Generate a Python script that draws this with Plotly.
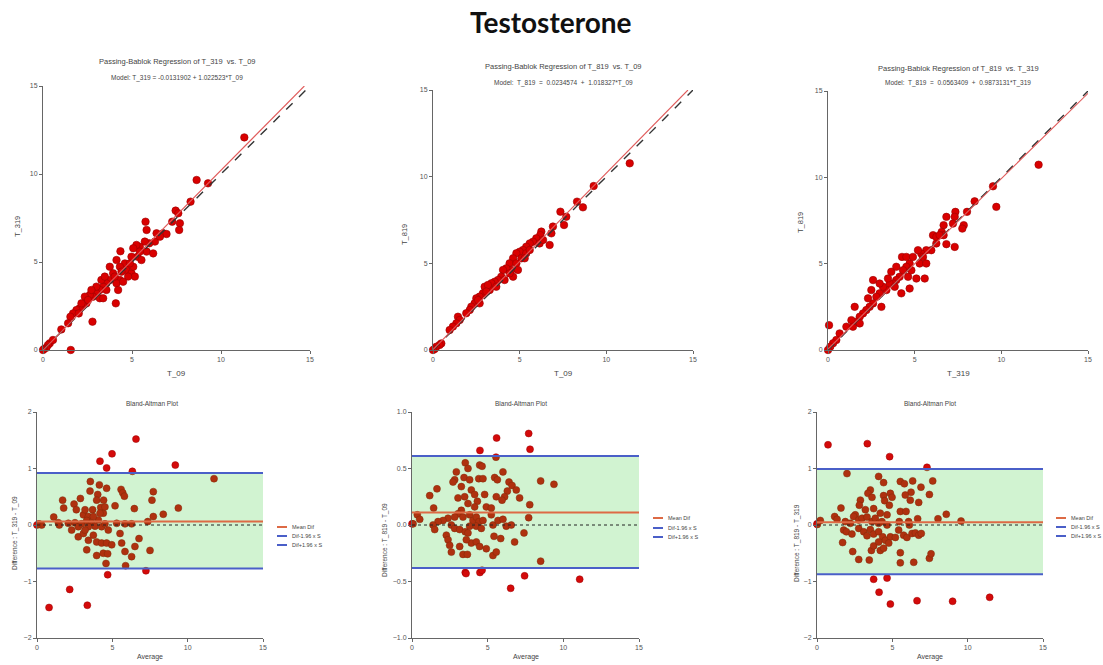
import plotly.graph_objects as go

# ---------------- DATA ----------------
# Passing-Bablok panel 1: T_319 vs T_09
pb1_x = [11.31, 8.63, 9.27, 8.29, 7.45, 7.60, 7.69, 7.65, 7.26, 5.76, 5.82, 6.75, 6.94, 6.38, 6.29, 5.97,
         5.72, 5.44, 5.25, 5.07, 5.31, 5.82, 6.19, 4.35, 4.13, 4.60, 4.32, 3.75, 3.94, 4.69, 4.97, 5.07,
         5.16, 4.78, 4.32, 4.13, 3.75, 3.56, 3.38, 3.28, 3.19, 3.00, 2.81, 2.63, 2.35, 2.44, 2.25, 2.06,
         1.88, 1.69, 3.19, 3.56, 4.09, 2.78, 1.54, 1.41, 1.03, 2.01, 1.56, 0.38, 0.28, 0.19, 0.06, 0.00,
         4.03, 4.41, 3.47, 3.00, 2.72, 4.88, 5.44, 4.22, 4.50, 3.38, 2.53, 2.16, 0.56, 5.53, 6.57, 4.97]
pb1_y = [12.08, 9.66, 9.47, 8.43, 7.92, 7.77, 7.20, 6.82, 7.29, 7.29, 6.82, 6.63, 6.59, 6.63, 6.16, 6.06,
         6.16, 5.87, 5.97, 5.78, 5.30, 5.59, 5.49, 5.61, 5.11, 4.92, 4.73, 4.73, 4.36, 4.55, 4.36, 4.73,
         4.17, 4.17, 3.98, 3.79, 3.98, 3.79, 3.60, 3.98, 3.41, 3.22, 3.03, 3.13, 3.03, 2.65, 2.56, 2.37,
         2.27, 2.08, 2.94, 3.41, 2.65, 1.61, 1.89, 1.52, 1.17, 2.08, 0.00, 0.38, 0.28, 0.13, 0.06, 0.00,
         4.17, 4.45, 4.17, 3.60, 3.41, 4.92, 5.59, 3.41, 3.88, 2.94, 2.84, 2.65, 0.57, 5.11, 6.44, 5.30]
pb1_model = (-0.0131902, 1.022523)

# Passing-Bablok panel 2: T_819 vs T_09
pb2_x = [11.35, 9.27, 8.31, 8.65, 7.35, 7.69, 7.56, 6.92, 6.83, 6.25, 6.19, 5.96, 5.77, 5.58, 5.38, 5.19,
         5.00, 4.81, 5.10, 5.38, 5.58, 4.62, 4.42, 4.52, 4.23, 4.04, 4.62, 3.94, 3.75, 3.56, 3.37, 3.27,
         2.98, 2.88, 2.69, 2.50, 2.40, 2.21, 2.12, 1.92, 1.44, 1.54, 1.35, 1.15, 0.96, 0.48, 0.38, 0.19,
         0.10, 0.00, 2.69, 3.17, 4.42, 4.81, 6.15, 6.35, 3.08, 3.65, 4.13, 4.90, 2.60, 5.29, 6.73]
pb2_y = [10.77, 9.46, 8.56, 8.23, 7.98, 7.69, 7.21, 7.12, 6.73, 6.83, 6.63, 6.44, 6.25, 6.15, 5.96, 5.77,
         5.67, 5.58, 5.29, 5.58, 5.77, 5.29, 5.00, 4.62, 4.71, 4.62, 4.23, 4.23, 4.04, 3.94, 3.85, 3.46,
         3.65, 3.27, 3.08, 2.98, 2.69, 2.50, 2.31, 2.12, 1.92, 1.73, 1.54, 1.35, 1.15, 0.38, 0.29, 0.19,
         0.06, 0.00, 2.69, 3.75, 4.42, 5.00, 6.15, 6.35, 3.37, 3.65, 4.04, 4.62, 2.88, 5.29, 6.06]
pb2_model = (0.0234574, 1.018327)

# Passing-Bablok panel 3: T_819 vs T_319
pb3_x = [12.15, 9.52, 9.71, 8.46, 8.02, 7.35, 7.31, 6.83, 6.67, 6.56, 7.21, 7.83, 7.75, 6.67, 7.31, 6.83,
         6.25, 6.06, 5.96, 5.67, 5.38, 5.19, 5.29, 5.58, 5.10, 4.71, 4.52, 4.33, 4.27, 4.13, 3.94, 3.75,
         4.71, 4.23, 3.56, 3.37, 3.17, 2.98, 2.79, 2.60, 3.65, 3.08, 2.60, 2.40, 2.21, 2.02, 1.83, 1.63,
         1.54, 1.35, 1.06, 1.44, 1.83, 0.67, 0.48, 0.29, 0.13, 0.00, 0.06, 2.31, 2.50, 2.98, 3.94, 4.52,
         4.90, 5.48, 6.25, 6.44, 3.85, 3.46, 4.62, 4.81, 5.67]
pb3_y = [10.73, 9.48, 8.29, 8.61, 8.00, 8.00, 7.71, 7.71, 7.23, 6.84, 7.32, 7.23, 7.03, 6.65, 5.97, 6.13,
         6.17, 6.65, 5.78, 5.78, 5.59, 5.78, 5.01, 4.14, 4.14, 5.01, 4.82, 4.62, 5.39, 4.24, 4.05, 3.85,
         3.56, 3.28, 3.85, 3.47, 3.66, 3.28, 3.08, 4.05, 4.53, 2.50, 2.70, 2.50, 2.31, 2.12, 1.93, 1.64,
         2.50, 1.73, 1.35, 1.35, 1.54, 0.96, 0.58, 0.39, 0.19, 0.00, 1.44, 2.99, 3.47, 3.85, 4.82, 5.39,
         5.39, 5.39, 6.55, 6.65, 3.66, 4.14, 4.24, 4.62, 5.01]
pb3_model = (0.0563409, 0.9873131)

# Bland-Altman panel 1: T_319 - T_09
ba1_avg = [6.57, 4.98, 4.18, 4.62, 6.33, 9.18, 11.75, 4.69, 7.23, 2.17, 0.80, 3.34,
           3.54, 4.14, 4.62, 5.58, 5.69, 5.80, 7.72, 7.63, 9.38, 8.38, 7.72, 1.70, 1.77, 2.88, 2.46, 2.61,
           3.52, 4.03, 4.42, 5.18, 6.46, 3.69, 4.23, 4.40, 3.08, 3.41, 1.11, 1.42, 1.48, 0.13, 0.31, 0.00,
           2.08, 2.52, 2.74, 2.30, 2.96, 3.30, 3.63, 3.85, 4.07, 4.29, 4.51, 5.29, 5.84, 6.28, 7.35, 2.74,
           3.08, 3.41, 3.74, 3.96, 4.29, 4.62, 4.96, 3.30, 3.96, 4.40, 4.69, 4.58, 5.84, 6.28, 5.88, 6.50,
           6.77, 7.50, 5.51, 5.62, 4.73, 3.19, 3.74, 4.18, 4.51, 3.96, 3.41, 3.19]
ba1_diff = [1.52, 1.26, 1.13, 1.01, 0.95, 1.06, 0.82, -0.88, -0.81, -1.14, -1.46, -1.42,
            0.77, 0.71, 0.65, 0.63, 0.57, 0.51, 0.59, 0.44, 0.30, 0.19, 0.15, 0.44, 0.30, 0.47, 0.37, 0.27,
            0.60, 0.54, 0.44, 0.34, 0.29, 0.27, 0.31, 0.21, 0.18, 0.15, 0.14, 0.04, 0.00, 0.02, 0.00, 0.00,
            0.03, 0.04, -0.03, -0.09, 0.02, 0.08, 0.04, -0.02, 0.09, -0.03, 0.02, 0.03, 0.02, 0.02, 0.06, -0.21,
            -0.15, -0.27, -0.18, -0.30, -0.32, -0.32, -0.35, -0.44, -0.54, -0.50, -0.51, -0.68, -0.47, -0.56, -0.72, -0.38,
            -0.24, -0.45, -0.15, -0.32, -0.09, 0.27, 0.15, 0.21, 0.32, 0.44, -0.03, -0.09]
ba1_mean, ba1_lower, ba1_upper = 0.06, -0.77, 0.92

# Bland-Altman panel 2: T_819 - T_09
ba2_avg = [7.71, 5.59, 7.80, 4.49, 5.55, 3.52, 3.57, 4.49, 4.63, 7.44, 6.52, 11.08, 8.50,
           3.52, 3.70, 2.93, 2.82, 2.71, 3.44, 3.81, 4.47, 4.63, 4.41, 4.69, 5.46, 5.64, 6.01, 6.41, 6.61,
           6.89, 6.30, 5.57, 6.12, 5.95, 7.11, 8.50, 9.38, 7.78, 7.71, 1.65, 1.17, 1.43, 3.26, 3.92, 4.14,
           4.80, 3.48, 3.04, 4.32, 4.91, 5.24, 5.24, 4.14, 3.70, 3.26, 3.04, 2.82, 3.37, 3.81, 4.03, 4.25,
           4.43, 4.69, 2.38, 2.05, 1.72, 0.35, 0.51, 0.00, 0.07, 1.39, 1.50, 2.60, 2.82, 3.15, 3.52, 3.81,
           4.25, 4.58, 5.35, 5.68, 6.01, 6.23, 6.56, 2.27, 2.38, 2.49, 2.60, 3.15, 3.37, 3.66, 3.92, 4.25,
           4.47, 4.91, 5.35, 5.57, 5.42, 5.86, 6.78, 7.40, 3.70, 3.59]
ba2_diff = [0.81, 0.77, 0.67, 0.66, 0.60, -0.42, -0.43, -0.42, -0.40, -0.45, -0.56, -0.48, -0.32,
            0.55, 0.50, 0.47, 0.40, 0.38, 0.42, 0.40, 0.53, 0.52, 0.41, 0.41, 0.42, 0.40, 0.47, 0.38, 0.35,
            0.31, 0.30, 0.25, 0.25, 0.22, 0.24, 0.39, 0.36, 0.18, 0.065, 0.32, 0.26, 0.15, 0.34, 0.31, 0.27,
            0.27, 0.25, 0.24, 0.21, 0.16, 0.15, 0.09, 0.16, 0.19, 0.13, 0.10, 0.07, 0.07, 0.09, 0.04, 0.07,
            0.03, 0.04, 0.06, 0.04, 0.03, 0.09, 0.05, 0.01, 0.01, 0.00, -0.04, 0.00, -0.03, -0.04, -0.06, -0.01,
            -0.01, -0.03, 0.00, 0.04, 0.05, -0.01, 0.00, -0.09, -0.13, -0.18, -0.24, -0.19, -0.26, -0.26, -0.16, -0.15,
            -0.19, -0.21, -0.27, -0.24, -0.10, -0.12, -0.15, -0.07, -0.07, -0.13]
ba2_mean, ba2_lower, ba2_upper = 0.11, -0.38, 0.61

# Bland-Altman panel 3: T_819 - T_319
ba3_avg = [0.73, 3.34, 4.82, 7.30, 3.76, 4.65, 4.12, 4.87, 6.64, 9.00, 11.46,
           1.99, 4.09, 4.42, 5.53, 5.80, 6.35, 6.90, 7.68, 7.46, 6.24, 5.86, 6.19, 6.75, 3.54, 3.38, 3.65,
           2.88, 2.81, 3.76, 4.42, 4.87, 4.98, 4.49, 4.80, 4.20, 4.65, 3.21, 2.54, 2.43, 1.59, 1.17, 1.33,
           0.22, 0.00, 0.02, 1.88, 2.21, 2.77, 2.99, 3.32, 3.65, 3.87, 4.09, 4.31, 4.65, 5.53, 5.91, 5.46,
           6.08, 6.13, 6.68, 8.03, 8.58, 9.56, 1.77, 1.95, 2.32, 2.77, 3.10, 3.32, 3.54, 3.76, 4.09, 4.36,
           4.54, 4.87, 5.42, 5.20, 5.75, 5.97, 6.31, 6.53, 6.75, 6.92, 1.70, 2.37, 2.77, 3.47, 3.61, 4.20,
           4.42, 4.76, 5.53, 5.53, 6.42, 7.46, 7.57, 3.76, 4.09]
ba3_diff = [1.42, 1.44, 1.21, 1.02, -0.96, -0.94, -1.19, -1.40, -1.34, -1.35, -1.28,
            0.91, 0.86, 0.75, 0.77, 0.73, 0.78, 0.67, 0.78, 0.54, 0.58, 0.53, 0.44, 0.40, 0.62, 0.56, 0.49,
            0.44, 0.35, 0.29, 0.52, 0.56, 0.49, 0.43, 0.35, 0.21, 0.18, 0.27, 0.18, 0.15, 0.30, 0.15, 0.10,
            0.08, 0.02, 0.01, 0.06, 0.03, 0.09, 0.12, 0.14, 0.06, 0.12, 0.03, 0.06, 0.00, 0.24, 0.24, 0.06,
            0.06, 0.00, 0.11, 0.11, 0.19, 0.07, -0.09, -0.12, -0.16, -0.06, -0.12, -0.19, -0.08, -0.16, -0.12, -0.21,
            -0.27, -0.21, -0.09, -0.22, -0.18, -0.22, -0.15, -0.14, -0.18, -0.15, -0.31, -0.47, -0.61, -0.62, -0.45, -0.45,
            -0.41, -0.32, -0.49, -0.67, -0.66, -0.59, -0.51, -0.37, -0.30]
ba3_mean, ba3_lower, ba3_upper = 0.05, -0.87, 0.99

# Text
main_title = "Testosterone"
pb_titles = ["Passing-Bablok Regression of T_319  vs. T_09",
             "Passing-Bablok Regression of T_819  vs. T_09",
             "Passing-Bablok Regression of T_819  vs. T_319"]
pb_models = ["Model: T_319 = -0.0131902 + 1.022523*T_09",
             "Model:  T_819  =  0.0234574  +  1.018327*T_09",
             "Model:  T_819  =  0.0563409  +  0.9873131*T_319"]
pb_xlabels = ["T_09", "T_09", "T_319"]
pb_ylabels = ["T_319", "T_819", "T_819"]
ba_title = "Bland-Altman Plot"
ba_ylabels = ["Difference : T_319 - T_09", "Difference : T_819 - T_09", "Difference : T_819 - T_319"]
ba_xlabel = "Average"
legend_names = ["Mean Dif", "Dif-1.96 x S", "Dif+1.96 x S"]
pb_ticks = [0, 5, 10, 15]
ba_yticks = [[-2, -1, 0, 1, 2], [-1.0, -0.5, 0.0, 0.5, 1.0], [-2, -1, 0, 1, 2]]
ba_yranges = [[-2, 2], [-1, 1], [-2, 2]]

# ---------------- LAYOUT ----------------
W, H = 1103, 665
def fx(p): return p / W
def fy(p): return 1 - p / H

FONT = "Liberation Sans, Arial, sans-serif"
TXT = "#555555"
LBL = "#444444"
MEAN_C = "#dd6a45"
LOA_C = "#4a5fc8"

# pixel boxes (left, right, top, bottom)
pb_boxes = [(43, 310, 86, 350), (433, 693, 90, 350), (828, 1088, 91, 350)]
ba_boxes = [(37, 263, 412, 638), (412, 639, 412, 638), (817, 1043, 412, 638)]

fig = go.Figure()
layout = dict(width=W, height=H, margin=dict(l=0, r=0, t=0, b=0), template="none",
              showlegend=False,
              paper_bgcolor="white", plot_bgcolor="white", font=dict(family=FONT, color=TXT))

def axis_style(domain, rng, ticks, anchor, fmt=None):
    d = dict(domain=domain, range=rng, tickvals=ticks, showgrid=False, zeroline=False,
             showline=True, linecolor="#666666", linewidth=1, ticks="outside", ticklen=3,
             tickcolor="#666666", tickfont=dict(size=7, color=TXT, family=FONT),
             anchor=anchor, fixedrange=True, mirror=False)
    if fmt:
        d["tickformat"] = fmt
    return d

def note(text, xp, yp, size, angle=0, anchor="center", color=LBL):
    return dict(text=text, x=fx(xp), y=fy(yp), xref="paper", yref="paper", showarrow=False,
                textangle=angle, font=dict(size=size, color=color, family=FONT),
                xanchor=anchor, yanchor="middle")

annotations = []
shapes = []

pb_data = [(pb1_x, pb1_y, pb1_model), (pb2_x, pb2_y, pb2_model), (pb3_x, pb3_y, pb3_model)]
title_y = [(62, 78), (66, 83), (68, 83)]
ylab_pos = [(17, 227), (405, 235), (800, 223)]
for i, (xs, ys, (a, b)) in enumerate(pb_data):
    n = i + 1
    l, r, t, btm = pb_boxes[i]
    layout["xaxis%d" % n] = axis_style([fx(l), fx(r)], [0, 15], pb_ticks, "y%d" % n)
    layout["yaxis%d" % n] = axis_style([fy(btm), fy(t)], [0, 15], pb_ticks, "x%d" % n)
    xa, ya = "x%d" % n, "y%d" % n
    fig.add_trace(go.Scatter(x=xs, y=ys, mode="markers", xaxis=xa, yaxis=ya, showlegend=False,
                             cliponaxis=False,
                             marker=dict(size=7.5, color="#d90000", line=dict(color="#9a0000", width=0.6))))
    fig.add_trace(go.Scatter(x=[0, 15], y=[0, 15], mode="lines", xaxis=xa, yaxis=ya, showlegend=False,
                             line=dict(color="#333333", width=1.4, dash="dash")))
    x_end = min(15, (15 - a) / b)
    fig.add_trace(go.Scatter(x=[0, x_end], y=[a, a + b * x_end], mode="lines", xaxis=xa, yaxis=ya,
                             showlegend=False, line=dict(color="#e05a5a", width=1.1)))
    cx = (l + r) / 2
    annotations += [
        note(pb_titles[i], cx, title_y[i][0], 7.5),
        note(pb_models[i], cx, title_y[i][1], 6.5),
        note(pb_xlabels[i], cx, btm + 23, 8),
        note(pb_ylabels[i], ylab_pos[i][0], ylab_pos[i][1], 7.5, angle=-90),
    ]

ba_data = [(ba1_avg, ba1_diff, ba1_mean, ba1_lower, ba1_upper),
           (ba2_avg, ba2_diff, ba2_mean, ba2_lower, ba2_upper),
           (ba3_avg, ba3_diff, ba3_mean, ba3_lower, ba3_upper)]
ba_title_x = [152, 521, 930]
ba_ylab_pos = [(15, 533), (385, 540), (797, 543)]
legend_left = [277, 653, 1056]
legend_rows = [(527, 536, 545), (518, 528, 537), (518, 527, 536)]
for i, (xs, ys, m, lo, up) in enumerate(ba_data):
    n = i + 4
    l, r, t, btm = ba_boxes[i]
    fmt = ".1f" if i == 1 else None
    layout["xaxis%d" % n] = axis_style([fx(l), fx(r)], [0, 15], pb_ticks, "y%d" % n)
    layout["yaxis%d" % n] = axis_style([fy(btm), fy(t)], ba_yranges[i], ba_yticks[i], "x%d" % n, fmt)
    xa, ya = "x%d" % n, "y%d" % n
    fig.add_trace(go.Scatter(x=xs, y=ys, mode="markers", xaxis=xa, yaxis=ya, showlegend=False,
                             cliponaxis=False,
                             marker=dict(size=7, color="#d40a0a", line=dict(color="#9a0000", width=0.5))))
    shapes += [
        dict(type="rect", xref=xa, yref=ya, x0=0, x1=15, y0=lo, y1=up, layer="above",
             fillcolor="rgba(40,200,40,0.21)", line=dict(width=0)),
        dict(type="line", xref=xa, yref=ya, x0=0, x1=15, y0=0, y1=0, layer="above",
             line=dict(color="#222222", width=1, dash="3px,3px")),
        dict(type="line", xref=xa, yref=ya, x0=0, x1=15, y0=m, y1=m, layer="above",
             line=dict(color=MEAN_C, width=2)),
        dict(type="line", xref=xa, yref=ya, x0=0, x1=15, y0=up, y1=up, layer="above",
             line=dict(color=LOA_C, width=2)),
        dict(type="line", xref=xa, yref=ya, x0=0, x1=15, y0=lo, y1=lo, layer="above",
             line=dict(color=LOA_C, width=2)),
    ]
    # manual legend
    for name, c, ry in zip(legend_names, [MEAN_C, LOA_C, LOA_C], legend_rows[i]):
        shapes.append(dict(type="line", xref="paper", yref="paper",
                           x0=fx(legend_left[i]), x1=fx(legend_left[i] + 10), y0=fy(ry), y1=fy(ry),
                           line=dict(color=c, width=2)))
        annotations.append(note(name, legend_left[i] + 13, ry, 5.5, anchor="left"))
    cx = (l + r) / 2
    annotations += [
        note(ba_title, ba_title_x[i], 403, 6.5),
        note(ba_xlabel, cx, 657, 7),
        note(ba_ylabels[i], ba_ylab_pos[i][0], ba_ylab_pos[i][1], 6.5, angle=-90),
    ]

annotations.append(dict(text="<b>%s</b>" % main_title, x=fx(551), y=fy(22), xref="paper", yref="paper",
                        showarrow=False, font=dict(size=28, color="#111111", family="Lato, Open Sans, sans-serif"),
                        xanchor="center", yanchor="middle"))
layout["annotations"] = annotations
layout["shapes"] = shapes
fig.update_layout(**layout)
fig.write_html("out.html")
